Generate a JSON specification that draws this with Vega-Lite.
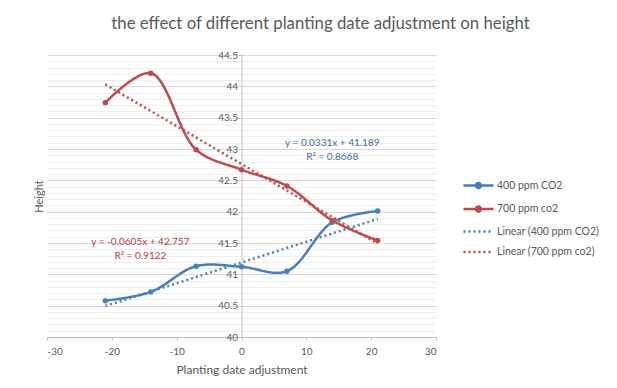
{
  "$schema": "https://vega.github.io/schema/vega-lite/v6.json",
  "autosize": "none",
  "width": 389,
  "height": 282,
  "padding": {"left": 47, "top": 55, "right": 181, "bottom": 51},
  "background": "white",
  "config": {"view": {"stroke": null}, "font": "Lato"},
  "title": {
    "text": "the effect of different planting date adjustment on height",
    "fontSize": 16.8,
    "fontWeight": "normal",
    "color": "#595959",
    "anchor": "middle",
    "frame": "group",
    "dx": 79,
    "offset": 17
  },
  "data": {
    "values": [
      {"series": "400 ppm CO2", "kind": "data", "x": -21, "y": 40.58},
      {"series": "400 ppm CO2", "kind": "data", "x": -14, "y": 40.72},
      {"series": "400 ppm CO2", "kind": "data", "x": -7, "y": 41.13},
      {"series": "400 ppm CO2", "kind": "data", "x": 0, "y": 41.12},
      {"series": "400 ppm CO2", "kind": "data", "x": 7, "y": 41.05},
      {"series": "400 ppm CO2", "kind": "data", "x": 14, "y": 41.83},
      {"series": "400 ppm CO2", "kind": "data", "x": 21, "y": 42.01},
      {"series": "700 ppm co2", "kind": "data", "x": -21, "y": 43.74},
      {"series": "700 ppm co2", "kind": "data", "x": -14, "y": 44.21},
      {"series": "700 ppm co2", "kind": "data", "x": -7, "y": 42.99},
      {"series": "700 ppm co2", "kind": "data", "x": 0, "y": 42.67},
      {"series": "700 ppm co2", "kind": "data", "x": 7, "y": 42.41},
      {"series": "700 ppm co2", "kind": "data", "x": 14, "y": 41.86},
      {"series": "700 ppm co2", "kind": "data", "x": 21, "y": 41.54},
      {"series": "Linear (400 ppm CO2)", "kind": "trend", "x": -21, "y": 40.494},
      {"series": "Linear (400 ppm CO2)", "kind": "trend", "x": 21, "y": 41.884},
      {"series": "Linear (700 ppm co2)", "kind": "trend", "x": -21, "y": 44.03},
      {"series": "Linear (700 ppm co2)", "kind": "trend", "x": 21, "y": 41.49}
    ]
  },
  "layer": [
    {
      "transform": [{"filter": "datum.kind === 'data'"}],
      "mark": {"type": "line", "interpolate": "catmull-rom", "strokeWidth": 2.5, "point": {"filled": true, "size": 30}},
      "encoding": {
        "x": {
          "field": "x",
          "type": "quantitative",
          "scale": {"domain": [-30, 30], "nice": false},
          "axis": {
            "values": [-30, -20, -10, 0, 10, 20, 30],
            "labelExpr": "'' + datum.value",
            "grid": false,
            "title": "Planting date adjustment",
            "titleFontSize": 12,
            "titleFontWeight": "normal",
            "titleColor": "#595959",
            "titlePadding": 8,
            "labelFontSize": 10,
            "labelColor": "#595959",
            "labelPadding": 6,
            "domainColor": "#bfbfbf",
            "tickColor": "#bfbfbf",
            "tickSize": 3
          }
        },
        "y": {
          "field": "y",
          "type": "quantitative",
          "scale": {"domain": [40, 44.5], "nice": false},
          "axis": {
            "orient": "left",
            "title": "Height",
            "titleFontSize": 11,
            "titleFontWeight": "normal",
            "titleColor": "#595959",
            "titlePadding": 3,
            "labels": false,
            "ticks": false,
            "domain": false,
            "grid": true,
            "tickCount": 45,
            "gridColor": {"condition": {"test": "abs(datum.value * 2 - round(datum.value * 2)) < 0.01", "value": "#d9d9d9"}, "value": "#eeeeee"},
            "gridWidth": 1
          }
        },
        "color": {
          "field": "series",
          "type": "nominal",
          "scale": {
            "domain": ["400 ppm CO2", "700 ppm co2", "Linear (400 ppm CO2)", "Linear (700 ppm co2)"],
            "range": ["#4a7ebb", "#be4b48", "#4a7ebb", "#be4b48"]
          },
          "legend": {
            "title": null,
            "orient": "none",
            "legendX": 425,
            "legendY": 124,
            "padding": 0,
            "labelFontSize": 10.5,
            "labelColor": "#595959",
            "symbolSize": 100,
            "symbolStrokeWidth": 2.5,
            "labelOffset": 12,
            "rowPadding": 8.5,
            "encode": {
              "symbols": {
                "update": {
                  "shape": {"signal": "test(/^Linear/, datum.value) ? 'M-3,0H3' : 'M-3,0H3M-0.5,0A0.5,0.5,0,1,1,0.5,0A0.5,0.5,0,1,1,-0.5,0'"}
                }
              }
            }
          }
        },
        "strokeDash": {
          "field": "series",
          "type": "nominal",
          "scale": {
            "domain": ["400 ppm CO2", "700 ppm co2", "Linear (400 ppm CO2)", "Linear (700 ppm co2)"],
            "range": [[1, 0], [1, 0], [2, 3], [2, 3]]
          },
          "legend": null
        }
      }
    },
    {
      "transform": [{"filter": "datum.kind === 'trend'"}],
      "mark": {"type": "line", "strokeWidth": 2.5},
      "encoding": {
        "x": {"field": "x", "type": "quantitative"},
        "y": {
          "field": "y",
          "type": "quantitative",
          "scale": {"domain": [40, 44.5], "nice": false},
          "axis": {
            "orient": "left",
            "offset": -194.5,
            "title": null,
            "grid": false,
            "values": [40, 40.5, 41, 41.5, 42, 42.5, 43, 43.5, 44, 44.5],
            "labelExpr": "'' + datum.value",
            "labelFontSize": 10,
            "labelColor": "#595959",
            "labelPadding": 1,
            "domainColor": "#bfbfbf",
            "tickColor": "#bfbfbf",
            "tickSize": 3
          }
        },
        "color": {"field": "series", "type": "nominal"},
        "strokeDash": {"field": "series", "type": "nominal"}
      }
    },
    {
      "data": {"values": [{"label": "y = 0.0331x + 41.189\nR² = 0.8668"}]},
      "mark": {"type": "text", "lineBreak": "\n", "fontSize": 10, "color": "#3e6aa3", "align": "center", "baseline": "top", "lineHeight": 14},
      "encoding": {
        "x": {"datum": 14.0, "type": "quantitative"},
        "y": {"datum": 43.18, "type": "quantitative", "axis": null},
        "text": {"field": "label"}
      }
    },
    {
      "data": {"values": [{"label": "y = -0.0605x + 42.757\nR² = 0.9122"}]},
      "mark": {"type": "text", "lineBreak": "\n", "fontSize": 10, "color": "#c0393b", "align": "center", "baseline": "top", "lineHeight": 14},
      "encoding": {
        "x": {"datum": -15.6, "type": "quantitative"},
        "y": {"datum": 41.6, "type": "quantitative", "axis": null},
        "text": {"field": "label"}
      }
    }
  ],
  "resolve": {"axis": {"y": "independent"}}
}
